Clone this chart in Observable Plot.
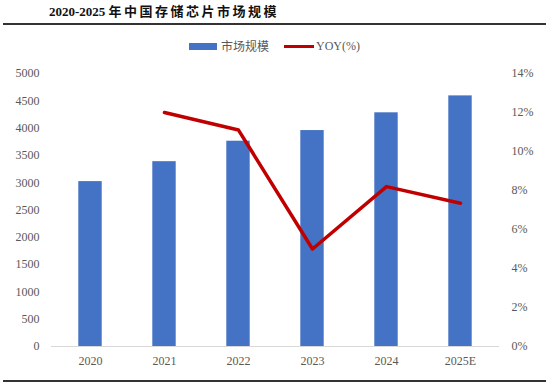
<!DOCTYPE html>
<html>
<head>
<meta charset="utf-8">
<script src="https://cdn.jsdelivr.net/npm/d3@7"></script>
<script src="https://cdn.jsdelivr.net/npm/@observablehq/plot@0.6"></script>
<style>
  html, body { margin: 0; padding: 0; background: #fff; }
  #wrap { position: relative; width: 554px; height: 384px; overflow: hidden; }
  #chart { position: absolute; left: 0; top: 0; }
  .title { position: absolute; left: 49px; top: 3px; font-family: "Liberation Serif", "Noto Sans CJK SC", serif; font-weight: bold; font-size: 13px; line-height: 18px; color: #111; white-space: nowrap; }
  .title .cjk { letter-spacing: 2.5px; font-size: 13px; }
  .hline { position: absolute; left: 3px; width: 543px; height: 2px; background: #333; }
  .legend { position: absolute; top: 37px; left: 189px; font-family: "Liberation Serif", "Noto Sans CJK SC", serif; font-size: 12px; color: #595959; white-space: nowrap; display: flex; align-items: center; }
  .sw-bar { display: inline-block; width: 28px; height: 7px; background: #4472C4; margin-right: 4px; }
  .sw-line { display: inline-block; width: 30px; height: 3px; background: #C00000; margin-left: 15px; margin-right: 2px; }
</style>
</head>
<body>
<div id="wrap">
  <div id="chart"></div>
  <div class="title">2020-2025 <span class="cjk">年中国存储芯片市场规模</span></div>
  <div class="hline" style="top:23px"></div>
  <div class="hline" style="top:380px"></div>
  <div class="legend"><span class="sw-bar"></span><span>市场规模</span><span class="sw-line"></span><span>YOY(%)</span></div>
</div>
<script>
const years = ["2020", "2021", "2022", "2023", "2024", "2025E"];
const market = [3020, 3385, 3760, 3955, 4280, 4590];
const yoy = [null, 12.0, 11.1, 5.0, 8.2, 7.35];
const leftTicks = [0, 500, 1000, 1500, 2000, 2500, 3000, 3500, 4000, 4500, 5000];
const rightTicks = [0, 2, 4, 6, 8, 10, 12, 14];

const yMax = 5000, pMax = 14;
const toLeft = p => p * yMax / pMax;
const rows = years.map((y, i) => ({year: y, market: market[i], yoy: yoy[i] == null ? null : toLeft(yoy[i])}));

const font = "Liberation Serif, serif";
const chart = Plot.plot({
  width: 554,
  height: 384,
  marginLeft: 51,
  marginRight: 55,
  marginTop: 73,
  marginBottom: 38,
  style: {fontFamily: font, fontSize: "12px", color: "#595959", background: "transparent"},
  x: {domain: years, padding: 0, label: null},
  y: {domain: [0, yMax], label: null},
  marks: [
    Plot.barY(rows, {x: "year", y: "market", fill: "#4472C4", insetLeft: 25.3, insetRight: 25.3}),
    Plot.ruleY([0], {stroke: "#D9D9D9", strokeWidth: 1}),
    Plot.lineY(rows, {x: "year", y: "yoy", stroke: "#C00000", strokeWidth: 3.5, curve: "linear"}),
    Plot.axisX({tickSize: 0, tickPadding: 10, label: null, fill: "#595959"}),
    Plot.axisY(leftTicks, {anchor: "left", tickSize: 0, tickPadding: 12, tickFormat: d => String(d), label: null, fill: "#595959"}),
    Plot.axisY(rightTicks.map(toLeft), {anchor: "right", tickSize: 0, tickPadding: 12, tickFormat: d => Math.round(d * pMax / yMax) + "%", label: null, fill: "#595959"})
  ]
});
document.getElementById("chart").appendChild(chart);
</script>
</body>
</html>
